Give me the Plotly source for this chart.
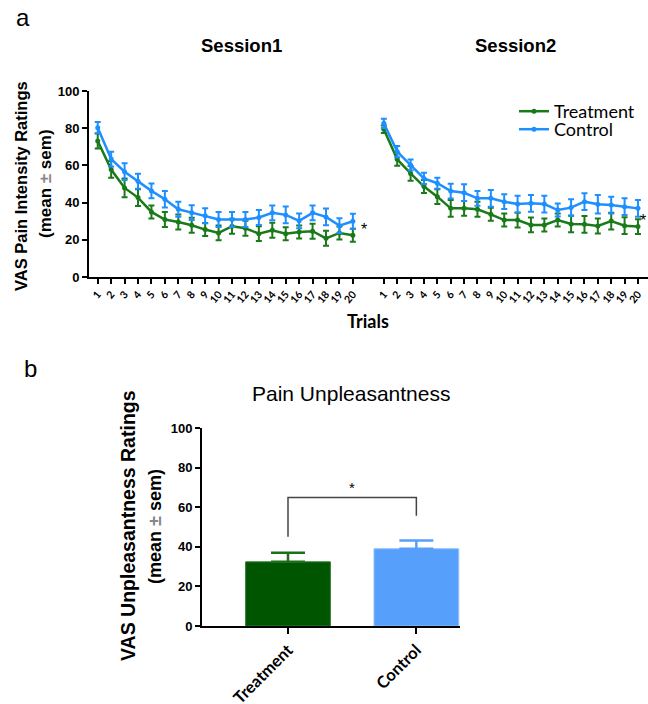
import plotly.graph_objects as go

trials = list(range(1, 21))
trial_labels = [str(t) for t in trials]

ctrl_s1 = [80.3, 63.4, 56.6, 51.5, 46.3, 41.8, 36.4, 34.6, 32.9, 30.9,
           30.9, 30.9, 32.0, 34.5, 33.4, 30.2, 34.5, 32.3, 27.6, 30.0]
ctrl_s1_sem = [3.0, 4.0, 4.5, 4.0, 4.0, 4.5, 4.0, 4.0, 4.0, 4.0,
               4.0, 4.0, 4.0, 4.0, 4.5, 4.0, 4.0, 4.5, 4.0, 4.0]
trt_s1 = [73.1, 57.8, 47.9, 42.7, 35.0, 30.9, 29.6, 27.8, 25.5, 23.7,
          27.3, 26.2, 23.3, 25.1, 23.3, 24.2, 24.6, 20.8, 23.7, 22.4]
trt_s1_sem = [4.0, 4.5, 5.0, 4.5, 3.5, 4.0, 4.0, 4.0, 3.5, 4.0,
              4.0, 4.0, 4.0, 4.0, 3.5, 3.5, 4.0, 4.0, 3.5, 3.5]

ctrl_s2 = [82.6, 67.4, 60.2, 53.0, 50.4, 46.2, 45.3, 42.3, 42.3, 40.5,
           39.2, 39.6, 39.2, 36.0, 37.3, 40.5, 39.1, 38.7, 37.8, 36.9]
ctrl_s2_sem = [2.5, 3.0, 3.0, 3.0, 3.0, 4.0, 4.5, 4.0, 4.5, 4.0,
               4.5, 4.5, 4.5, 3.5, 4.5, 4.5, 5.0, 4.5, 4.5, 4.5]
trt_s2 = [79.4, 63.3, 55.7, 48.6, 43.2, 36.9, 36.9, 36.4, 33.7, 30.6,
          30.6, 28.0, 28.0, 30.6, 28.5, 28.3, 27.4, 30.1, 27.6, 27.1]
trt_s2_sem = [2.0, 3.5, 4.0, 3.5, 4.0, 4.5, 4.0, 4.0, 3.5, 3.5,
              4.0, 4.0, 3.5, 3.5, 4.5, 4.5, 4.0, 4.5, 4.5, 4.0]

groups = ["Treatment", "Control"]
unpl_mean = [32.4, 39.0]
unpl_sem = [4.6, 4.2]
bracket_left, bracket_top, bracket_right = 45.1, 64.9, 55.7

GREEN = "#1a7a1a"
BLUE = "#1e8fff"
BAR_GREEN = "#005500"
BAR_BLUE = "#56a0fb"

W, H = 648, 704
def fx(px): return px / W
def fy(px): return 1 - px / H

fig = go.Figure()

def line_trace(x, y, e, color, name, xa, ya, show, legend="legend"):
    return go.Scatter(
        x=x, y=y, mode="lines+markers", name=name, showlegend=show, legend=legend,
        line=dict(color=color, width=2.5),
        marker=dict(color=color, size=5, symbol="circle"),
        error_y=dict(type="data", array=e, color=color, thickness=2, width=3),
        xaxis=xa, yaxis=ya)

fig.add_trace(line_trace(trials, trt_s1, trt_s1_sem, GREEN, "Treatment", "x", "y", False))
fig.add_trace(line_trace(trials, ctrl_s1, ctrl_s1_sem, BLUE, "Control", "x", "y", False))
fig.add_trace(line_trace(trials, trt_s2, trt_s2_sem, GREEN, "Treatment", "x2", "y2", True, "legend"))
fig.add_trace(line_trace(trials, ctrl_s2, ctrl_s2_sem, BLUE, "Control", "x2", "y2", True, "legend2"))

fig.add_trace(go.Bar(
    x=groups, y=unpl_mean, width=0.66, showlegend=False,
    marker=dict(color=[BAR_GREEN, BAR_BLUE], line=dict(color=["#2f7a2f", "#8cc0fc"], width=1)),
    xaxis="x3", yaxis="y3"))

err_colors = ["#1d6e1d", BAR_BLUE]
for g, m, s, c in zip(groups, unpl_mean, unpl_sem, err_colors):
    fig.add_trace(go.Scatter(x=[g], y=[m], mode="markers", marker=dict(size=0.1, color=c),
                             error_y=dict(type="data", array=[s], arrayminus=[0], symmetric=False,
                                          color=c, thickness=2.5, width=17),
                             showlegend=False, xaxis="x3", yaxis="y3", hoverinfo="skip"))

common_x = dict(tickmode="array", tickvals=trials, ticktext=trial_labels, tickangle=-50,
                ticks="outside", ticklen=5, tickwidth=2, tickcolor="black",
                showline=True, linecolor="black", linewidth=2, showgrid=False,
                zeroline=False, automargin=False,
                tickfont=dict(family="Lato", size=10.5, color="black", weight="bold"))

yax = dict(range=[0, 100], tickvals=[0, 20, 40, 60, 80, 100], ticks="outside", ticklen=5,
           tickwidth=2, tickcolor="black", showline=True, linecolor="black", linewidth=2,
           showgrid=False, zeroline=False, automargin=False,
           tickfont=dict(family="Liberation Sans", size=13, color="black", weight="bold"))

leg = dict(xanchor="left", yanchor="top", font=dict(family="Lato", size=18, color="black"),
           bgcolor="rgba(0,0,0,0)", itemwidth=30, tracegroupgap=0)

fig.update_layout(
    width=W, height=H, margin=dict(l=0, r=0, t=0, b=0, pad=0, autoexpand=False),
    paper_bgcolor="white", plot_bgcolor="white",
    xaxis=dict(domain=[fx(89), fx(373)], range=[0.35, 21.5], anchor="y", **common_x),
    xaxis2=dict(domain=[fx(373), 1.0], range=[0.19, 20.75], anchor="y2", **common_x),
    yaxis=dict(domain=[fy(277), fy(91)], anchor="x", **yax),
    yaxis2=dict(domain=[fy(277), fy(91)], range=[0, 100], anchor="x2", visible=False,
                automargin=False),
    xaxis3=dict(domain=[fx(202), fx(460)], range=[-0.67, 1.34], anchor="y3",
                ticks="outside", ticklen=6, tickwidth=2, tickcolor="black", tickangle=-45,
                showline=True, linecolor="black", linewidth=2, showgrid=False, automargin=False,
                tickfont=dict(family="Lato", size=16.5, color="black", weight="bold")),
    yaxis3=dict(domain=[fy(626), fy(428)], anchor="x3", **yax),
    legend=dict(x=fx(514), y=fy(93), **leg),
    legend2=dict(x=fx(514), y=fy(111), **leg),
    showlegend=True,
)

# significance bracket in bar panel
fig.add_shape(type="path", xref="x3", yref="y3",
              path=f"M 0 {bracket_left} L 0 {bracket_top} L 1 {bracket_top} L 1 {bracket_right}",
              line=dict(color="#444444", width=1.5))

ann = []
def A(text, x, y, size, bold=False, family="Liberation Sans", angle=0, color="black"):
    ann.append(dict(text=f"<b>{text}</b>" if bold else text, x=fx(x), y=fy(y), xref="paper", yref="paper",
                    showarrow=False, textangle=angle, xanchor="center", yanchor="middle",
                    font=dict(family=family, size=size, color=color)))

A("a", 23, 18, 24)
A("b", 30, 368, 24)
A("Session1", 241, 46, 18.5, bold=True)
A("Session2", 515, 46, 18.5, bold=True)
A("Trials", 368, 321, 18, bold=True, family="Lato")
A("VAS Pain Intensity Ratings", 21, 186, 16.5, bold=True, angle=-90)
A("(mean <span style='color:#888'>±</span> sem)", 45, 184, 17, bold=True, angle=-90)
A("Pain Unpleasantness", 351, 393, 21)
A("VAS Unpleasantness Ratings", 128, 526, 19.5, bold=True, angle=-90)
A("(mean <span style='color:#888'>±</span> sem)", 155, 527, 18, bold=True, angle=-90)
A("*", 364, 230, 16)
A("*", 643, 220, 16)
ann.append(dict(text="*", x=0.5, y=70, xref="x3", yref="y3", showarrow=False,
                font=dict(family="Liberation Sans", size=15, color="black")))
fig.update_layout(annotations=ann)

fig.write_html("out.html", config={"displayModeBar": False},
               post_script="document.body.style.margin='0';")
